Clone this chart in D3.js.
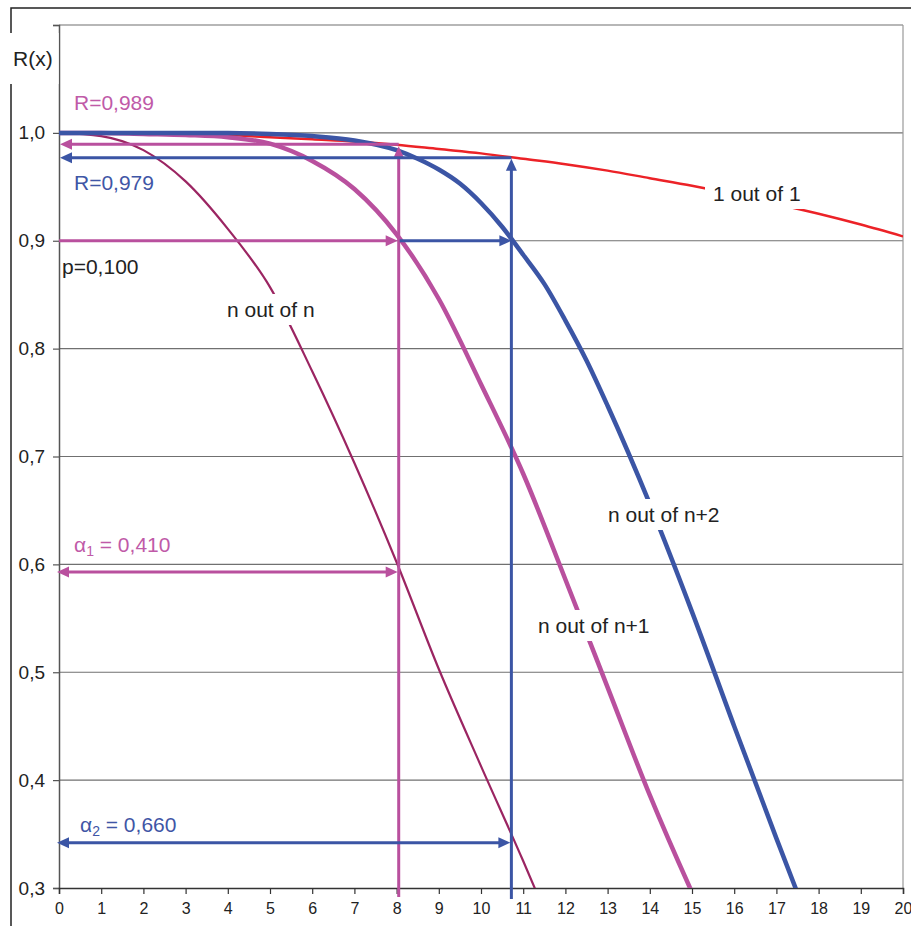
<!DOCTYPE html>
<html>
<head>
<meta charset="utf-8">
<script src="https://cdn.jsdelivr.net/npm/d3@7.9.0/dist/d3.min.js"></script>
<style>
  html, body { margin: 0; padding: 0; background: #fff; }
  svg { display: block; font-family: "Liberation Sans", Arial, sans-serif; }
</style>
</head>
<body>
<svg id="chart" width="911" height="926"></svg>
<script>
// reliability curves
const xOneOfOne = [0, 1, 2, 3, 4, 5, 6, 7, 8, 9, 10, 11, 12, 13, 14, 15, 16, 17, 18, 19, 20];
const rOneOfOne = [1.000, 1.000, 0.9996, 0.999, 0.998, 0.996, 0.994, 0.992, 0.989, 0.985, 0.981,
  0.976, 0.971, 0.965, 0.958, 0.951, 0.943, 0.934, 0.925, 0.915, 0.904];

const xNofN = [0, 1, 2, 3, 4, 5, 6, 7, 8, 9, 10, 11, 11.6];
const rNofN = [1.000, 0.997, 0.984, 0.955, 0.911, 0.857, 0.779, 0.694, 0.602, 0.503, 0.413, 0.325, 0.27];

const xNofN1 = [0, 1, 2, 3, 4, 5, 6, 7, 8, 9, 10, 11, 12, 13, 14, 15, 15.4];
const rNofN1 = [1.000, 1.000, 0.999, 0.998, 0.996, 0.990, 0.974, 0.948, 0.906, 0.846, 0.767,
  0.684, 0.586, 0.486, 0.386, 0.296, 0.262];

const xNofN2 = [0, 1, 2, 3, 4, 5, 6, 7, 8, 8.5, 9, 9.5, 10, 10.5, 11, 11.5, 12, 12.5, 13,
  14, 15, 16, 17, 17.7];
const rNofN2 = [1.000, 1.000, 1.000, 1.000, 1.000, 0.999, 0.997, 0.993, 0.984, 0.976, 0.966,
  0.953, 0.935, 0.913, 0.887, 0.860, 0.826, 0.789, 0.747, 0.656, 0.556, 0.450, 0.346, 0.275];

// annotation levels
const pLevel = 0.9;
const x1 = 8.05, x2 = 10.72;
const r1 = 0.9895, r2 = 0.977;
const a1Level = 0.593, a2Level = 0.342;

const xTicks = d3.range(0, 21);
const yTicks = [0.3, 0.4, 0.5, 0.6, 0.7, 0.8, 0.9, 1.0, 1.1];
const yTickLabels = ['0,3', '0,4', '0,5', '0,6', '0,7', '0,8', '0,9', '1,0', ''];

const pink = '#b9509e';
const blue = '#3b55a5';
const red = '#ec2227';
const plum = '#9b2562';

const svg = d3.select('#chart');
const x = d3.scaleLinear().domain([0, 20]).range([59, 903]);
const y = d3.scaleLinear().domain([0.3, 1.1]).range([888, 25]);

// outer frame of the figure
svg.append('path')
  .attr('d', 'M11,926 L11,8 L911,8')
  .attr('fill', 'none').attr('stroke', '#222').attr('stroke-width', 1.5);

// grid
svg.append('g')
  .selectAll('line')
  .data(yTicks.filter(d => d > 0.35))
  .join('line')
  .attr('x1', x(0)).attr('x2', x(20))
  .attr('y1', d => y(d)).attr('y2', d => y(d))
  .attr('stroke', '#707070').attr('stroke-width', 1.2);

svg.append('line')
  .attr('x1', x(20)).attr('x2', x(20))
  .attr('y1', y(1.1)).attr('y2', y(0.3))
  .attr('stroke', '#999').attr('stroke-width', 1.2);

// axes
const yAxis = d3.axisLeft(y).tickValues(yTicks).tickSize(6).tickPadding(8)
  .tickFormat((d, i) => yTickLabels[i]);
const xAxis = d3.axisBottom(x).tickValues(xTicks).tickSize(6).tickPadding(9)
  .tickFormat(d3.format('d'));

const gy = svg.append('g').attr('transform', `translate(${x(0)},0)`).call(yAxis);
gy.select('.domain').attr('stroke', '#555').attr('stroke-width', 1.5);
gy.selectAll('.tick line').attr('stroke', '#555').attr('stroke-width', 1.2);
gy.selectAll('.tick text').attr('font-size', 19).attr('fill', '#222')
  .attr('font-family', '"Liberation Sans", Arial, sans-serif');

const gx = svg.append('g').attr('transform', `translate(0,${y(0.3)})`).call(xAxis);
gx.select('.domain').attr('stroke', '#333').attr('stroke-width', 1.5);
gx.selectAll('.tick line').attr('stroke', '#333').attr('stroke-width', 1.2);
gx.selectAll('.tick text').attr('font-size', 16).attr('fill', '#222')
  .attr('font-family', '"Liberation Sans", Arial, sans-serif');

// curves, clipped to the plot area
svg.append('clipPath').attr('id', 'plot')
  .append('rect')
  .attr('x', x(0)).attr('y', y(1.1))
  .attr('width', x(20) - x(0)).attr('height', y(0.3) - y(1.1));

const line = d3.line()
  .x(d => x(d[0]))
  .y(d => y(d[1]))
  .curve(d3.curveMonotoneX);

const curves = [
  { xs: xOneOfOne, rs: rOneOfOne, color: red, width: 2.5 },
  { xs: xNofN, rs: rNofN, color: plum, width: 2.2 },
  { xs: xNofN1, rs: rNofN1, color: pink, width: 4.5 },
  { xs: xNofN2, rs: rNofN2, color: blue, width: 4.5 },
];

const gCurves = svg.append('g').attr('clip-path', 'url(#plot)');
curves.forEach((c) => {
  gCurves.append('path')
    .attr('d', line(d3.zip(c.xs, c.rs)))
    .attr('fill', 'none')
    .attr('stroke', c.color)
    .attr('stroke-width', c.width)
    .attr('stroke-linejoin', 'round');
});

// arrows in pixel space: heads at 'start', 'end' or both
function arrow(px1, py1, px2, py2, color, heads) {
  const len = 12, half = 5.5;
  const dx = px2 - px1, dy = py2 - py1;
  const d = Math.hypot(dx, dy);
  const ux = dx / d, uy = dy / d;
  let sx = px1, sy = py1, ex = px2, ey = py2;
  if (heads.includes('start')) { sx += ux * (len - 2); sy += uy * (len - 2); }
  if (heads.includes('end')) { ex -= ux * (len - 2); ey -= uy * (len - 2); }
  svg.append('line')
    .attr('x1', sx).attr('y1', sy).attr('x2', ex).attr('y2', ey)
    .attr('stroke', color).attr('stroke-width', 3);
  const head = (tx, ty, vx, vy) => {
    const bx = tx - vx * len, by = ty - vy * len;
    svg.append('path')
      .attr('d', `M${tx},${ty} L${bx - vy * half},${by + vx * half} L${bx + vy * half},${by - vx * half} Z`)
      .attr('fill', color);
  };
  if (heads.includes('end')) head(px2, py2, ux, uy);
  if (heads.includes('start')) head(px1, py1, -ux, -uy);
}

const bottom = y(0.3);
arrow(x(x1), bottom + 9, x(x1), y(r1) + 2, pink, ['end']);
arrow(x(x2), bottom + 11, x(x2), y(r2) + 1, blue, ['end']);
arrow(x(x1), y(r1), x(0) + 1, y(r1), pink, ['end']);
arrow(x(x2), y(r2), x(0) + 1, y(r2), blue, ['end']);
arrow(x(0), y(pLevel), x(x1) - 1, y(pLevel), pink, ['end']);
arrow(x(x1) + 1, y(pLevel), x(x2), y(pLevel), blue, ['end']);
arrow(x(0) - 2, y(a1Level), x(x1) - 1, y(a1Level), pink, ['start', 'end']);
arrow(x(0) - 2, y(a2Level), x(x2) - 1, y(a2Level), blue, ['start', 'end']);

// labels; boxed ones cut the lines beneath them
function label(parts, px, py, color, boxed) {
  const g = svg.append('g');
  const t = g.append('text')
    .attr('x', px).attr('y', py)
    .attr('font-size', 21)
    .attr('fill', color);
  parts.forEach((p) => {
    const s = t.append('tspan').text(p.text);
    if (p.sub) s.attr('font-size', 14).attr('dy', 4);
    if (p.dy) s.attr('dy', p.dy);
  });
  if (boxed) {
    const b = t.node().getBBox();
    g.insert('rect', 'text')
      .attr('x', b.x - boxed[0]).attr('y', b.y - boxed[1])
      .attr('width', b.width + 2 * boxed[0]).attr('height', b.height + 2 * boxed[1])
      .attr('fill', '#fff');
  }
}

label([{ text: 'R(x)' }], 13, 66, '#222', [6, 14]);
label([{ text: 'R=0,989' }], 74, 110, '#c05aa8');
label([{ text: 'R=0,979' }], 74, 190, '#3f56a6');
label([{ text: 'p=0,100' }], 62, 274, '#222');
label([{ text: 'n out of n' }], 227, 317, '#222', [6, 4]);
label([{ text: '1 out of 1' }], 713, 201, '#222', [8, 4]);
label([{ text: 'n out of n+2' }], 608, 522, '#222', [6, 4]);
label([{ text: 'n out of n+1' }], 538, 633, '#222', [6, 4]);
label([{ text: 'α' }, { text: '1', sub: true }, { text: ' = 0,410', dy: -4 }], 74, 552, '#c05aa8');
label([{ text: 'α' }, { text: '2', sub: true }, { text: ' = 0,660', dy: -4 }], 80, 832, '#3f56a6');
</script>
</body>
</html>
